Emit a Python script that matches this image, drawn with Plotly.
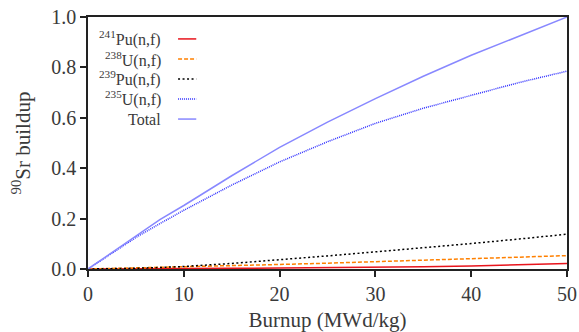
import plotly.graph_objects as go

burnup = [0, 2.5, 5, 7.5, 10, 15, 20, 25, 30, 35, 40, 45, 50]
pu241 = [0, 0.0, 0.0005, 0.001, 0.0015, 0.0025, 0.004, 0.005, 0.007, 0.009, 0.012, 0.016, 0.022]
u238 = [0, 0.002, 0.004, 0.006, 0.008, 0.013, 0.018, 0.023, 0.029, 0.035, 0.041, 0.047, 0.053]
pu239 = [0, 0.001, 0.003, 0.006, 0.010, 0.022, 0.036, 0.052, 0.068, 0.084, 0.101, 0.119, 0.138]
u235 = [0, 0.063, 0.125, 0.18, 0.233, 0.333, 0.425, 0.505, 0.578, 0.638, 0.69, 0.74, 0.785]
total = [0, 0.066, 0.132, 0.196, 0.252, 0.37, 0.483, 0.583, 0.676, 0.765, 0.848, 0.924, 1.0]

names = ["<sup>241</sup>Pu(n,f)", "<sup>238</sup>U(n,f)", "<sup>239</sup>Pu(n,f)",
         "<sup>235</sup>U(n,f)", "Total"]
series = [pu241, u238, pu239, u235, total]
colors = ["#e8141c", "#ff8000", "#000000", "#3030ff", "#8888ff"]
dashes = ["solid", "4px,2px", "2px,2.5px", "1px,1px", "solid"]

FONT = "Liberation Serif"
TXT = "#3a3a3a"

fig = go.Figure()
for nm, ys, c, d in zip(names, series, colors, dashes):
    fig.add_trace(go.Scatter(x=burnup, y=ys, mode="lines", name=nm,
                             line=dict(color=c, dash=d, width=1.5), showlegend=False))

# manual legend (text left, sample right)
row_y = [0.913, 0.833, 0.754, 0.675, 0.595]
for nm, c, d, yy in zip(names, colors, dashes, row_y):
    fig.add_annotation(x=0.157, y=yy, xref="paper", yref="paper", text=nm,
                       showarrow=False, xanchor="right", yanchor="middle",
                       font=dict(family=FONT, size=16, color=TXT))
    fig.add_shape(type="line", xref="paper", yref="paper", x0=0.188, x1=0.226,
                  y0=yy, y1=yy, opacity=1, line=dict(color=c, dash=d, width=1.5))

axis_common = dict(showline=True, linecolor="#222222", linewidth=1.5, mirror=True,
                   ticks="outside", ticklen=6, tickcolor="#222222", tickwidth=1.5,
                   showgrid=False, zeroline=False, automargin=False,
                   tickfont=dict(family=FONT, size=20, color=TXT))

fig.update_xaxes(range=[0, 50], tickvals=[0, 10, 20, 30, 40, 50],
                 title=dict(text="Burnup (MWd/kg)", font=dict(family=FONT, size=21, color=TXT)),
                 **axis_common)
fig.update_yaxes(range=[0, 1.0], tickvals=[0, 0.2, 0.4, 0.6, 0.8, 1.0], tickformat=".1f",
                 title=dict(text="<sup>90</sup>Sr buildup", font=dict(family=FONT, size=21, color=TXT)),
                 **axis_common)

fig.update_layout(width=579, height=332, margin=dict(l=88, r=12, t=17, b=63),
                  plot_bgcolor="white", paper_bgcolor="white")
fig.write_html("out.html")
